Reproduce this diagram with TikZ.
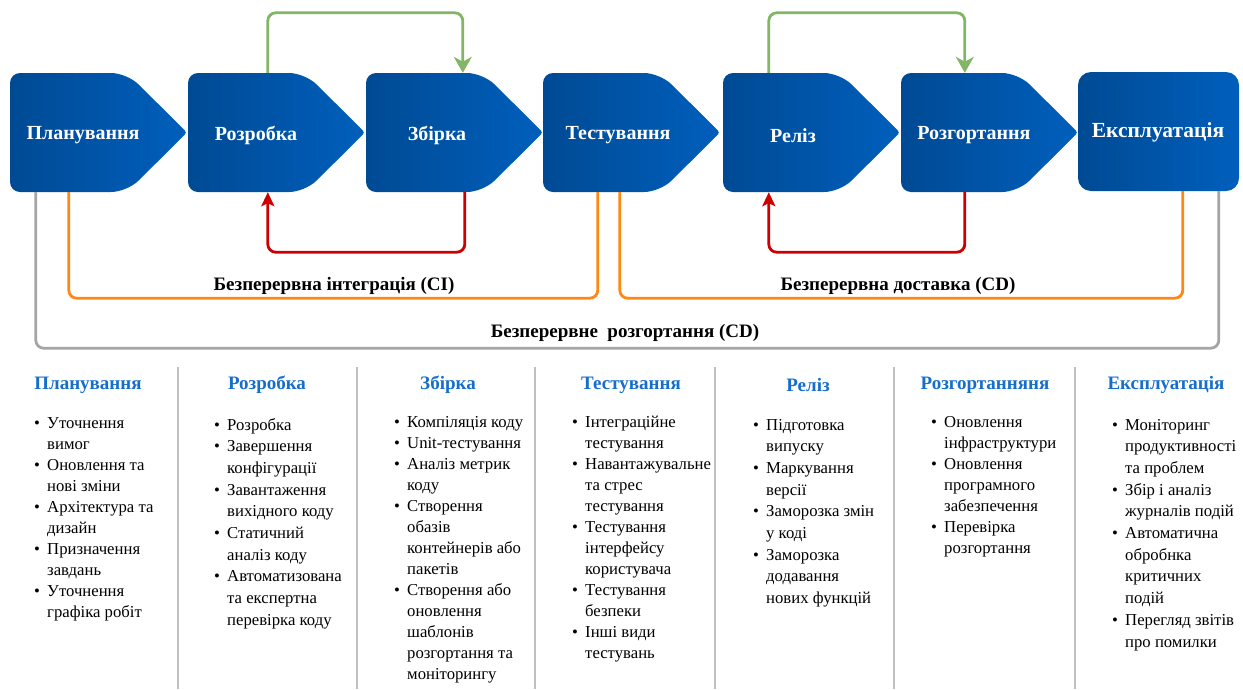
\documentclass[tikz,border=0pt]{standalone}
\usepackage{fontspec}
\setmainfont{Liberation Serif}
\usetikzlibrary{arrows.meta}
\definecolor{cdark}{RGB}{0,74,148}
\definecolor{clight}{RGB}{0,95,188}
\definecolor{hblue}{RGB}{22,110,204}
\definecolor{cgreen}{RGB}{130,182,102}
\definecolor{cred}{RGB}{204,0,0}
\definecolor{corange}{RGB}{255,136,20}
\definecolor{cgray}{RGB}{165,165,165}
\definecolor{csep}{RGB}{192,192,192}
\newcommand{\bul}{\makebox[13pt][l]{\textbullet}}
\tikzset{
 chev/.style={minimum width=177pt, minimum height=119pt, inner sep=0pt, path picture={
   \shade[left color=cdark, right color=clight, rounded corners=10pt]
     (path picture bounding box.south west) -- (path picture bounding box.north west)
     [rounded corners=16pt] -- ([xshift=-60pt]path picture bounding box.north east) [rounded corners=3pt] -- (path picture bounding box.east)
     [rounded corners=16pt] -- ([xshift=-60pt]path picture bounding box.south east) [rounded corners=10pt] -- cycle;}},
 lastbox/.style={minimum width=161pt, minimum height=119pt, inner sep=0pt, rounded corners=13pt, left color=cdark, right color=clight},
 ctext/.style={text=white, font=\fontsize{20}{22}\selectfont\bfseries, inner sep=0pt},
 head/.style={text=hblue, font=\fontsize{19}{22}\selectfont\bfseries, inner sep=0pt},
 lbl/.style={font=\fontsize{19}{22}\selectfont\bfseries, inner sep=0pt},
 blist/.style={anchor=base west, inner sep=0pt, font=\fontsize{16.7}{21}\selectfont},
 conn/.style={line width=2.8pt, rounded corners=8pt},
 gline/.style={conn, draw=cgreen, -{Stealth[length=16pt,width=18pt,inset=5pt]}},
 rline/.style={conn, draw=cred, -{Stealth[length=14pt,width=13pt,inset=3pt]}},
 oline/.style={conn, draw=corange},
 grline/.style={conn, draw=cgray},
 sep/.style={draw=csep, line width=1.5pt},
}
\begin{document}
\begin{tikzpicture}[x=1pt,y=-1pt]
\useasboundingbox (0,0) rectangle (1243,689);
% chevrons
\node[chev] (plan)  at (98.5,132.5) {};
\node[chev] (dev)   at (276.5,132.5) {};
\node[chev] (build) at (454.5,132.5) {};
\node[chev] (test)  at (631.5,132.5) {};
\node[chev] (rel)   at (811.5,132.5) {};
\node[chev] (depl)  at (989.5,132.5) {};
\node[lastbox] (exp) at (1158.5,131.5) {};
\node[ctext] (planT)  at (83,135.5) {Планування};
\node[ctext] (devT)   at (256,135.5) {Розробка};
\node[ctext] (buildT) at (437,135.5) {Збірка};
\node[ctext] (testT)  at (618,135.5) {Тестування};
\node[ctext] (relT)   at (793,135.5) {Реліз};
\node[ctext] (deplT)  at (974,135.5) {Розгортання};
\node[ctext, font=\fontsize{21.5}{24}\selectfont\bfseries] (expT) at (1158,132.5) {Експлуатація};
% feedback loops
\draw[gline] ([xshift=80pt]dev.north west) -- ++(0pt,60pt) -| ([xshift=97pt]build.north west);
\draw[rline] ([xshift=99pt]build.south west) -- ++(0pt,-60pt) -| ([xshift=80pt]dev.south west);
\draw[gline] ([xshift=46pt]rel.north west) -- ++(0pt,60pt) -| ([xshift=64pt]depl.north west);
\draw[rline] ([xshift=64pt]depl.south west) -- ++(0pt,-60pt) -| ([xshift=46pt]rel.south west);
\draw[oline] ([xshift=59pt]plan.south west) -- ++(0pt,-106pt) -| ([xshift=55pt]test.south west);
\draw[oline] ([xshift=77pt]test.south west) -- ++(0pt,-106pt) -| ([xshift=105pt]exp.south west);
\draw[grline] ([xshift=26pt]plan.south west) -- ++(0pt,-156pt) -| ([xshift=141pt]exp.south west);
\node[lbl] (ci)  at (334,286) {Безперервна інтеграція (CI)};
\node[lbl] (cd1) at (898,286) {Безперервна доставка (CD)};
\node[lbl] (cd2) at (625,333) {Безперервне\ \ розгортання (CD)};
% separators
\foreach \x in {178,357,535,715,894,1075} \draw[sep] (\x,367) -- (\x,689);
% headers
\node[head] (h1) at (88,385) {Планування};
\node[head] (h2) at (267,385) {Розробка};
\node[head] (h3) at (448,385) {Збірка};
\node[head] (h4) at (631,385) {Тестування};
\node[head] (h5) at (808,385) {Реліз};
\node[head] (h6) at (985,385) {Розгортанняня};
\node[head] (h7) at (1166,385) {Експлуатація};
% lists
\node[blist] (l1) at (34,428) {\begin{tabular}[t]{@{}l@{}l@{}}
\bul & Уточнення\\ & вимог\\
\bul & Оновлення та\\ & нові зміни\\
\bul & Архітектура та\\ & дизайн\\
\bul & Призначення\\ & завдань\\
\bul & Уточнення\\ & графіка робіт
\end{tabular}};
\node[blist, font=\fontsize{16.7}{21.7}\selectfont] (l2) at (214,430) {\begin{tabular}[t]{@{}l@{}l@{}}
\bul & Розробка\\
\bul & Завершення\\ & конфігурації\\
\bul & Завантаження\\ & вихідного коду\\
\bul & Статичний\\ & аналіз коду\\
\bul & Автоматизована\\ & та експертна\\ & перевірка коду
\end{tabular}};
\node[blist] (l3) at (394,427) {\begin{tabular}[t]{@{}l@{}l@{}}
\bul & Компіляція коду\\
\bul & Unit-тестування\\
\bul & Аналіз метрик\\ & коду\\
\bul & Створення\\ & обазів\\ & контейнерів або\\ & пакетів\\
\bul & Створення або\\ & оновлення\\ & шаблонів\\ & розгортання та\\ & моніторингу
\end{tabular}};
\node[blist] (l4) at (572,427) {\begin{tabular}[t]{@{}l@{}l@{}}
\bul & Інтеграційне\\ & тестування\\
\bul & Навантажувальне\\ & та стрес\\ & тестування\\
\bul & Тестування\\ & інтерфейсу\\ & користувача\\
\bul & Тестування\\ & безпеки\\
\bul & Інші види\\ & тестувань
\end{tabular}};
\node[blist, font=\fontsize{16.7}{21.7}\selectfont] (l5) at (753,430) {\begin{tabular}[t]{@{}l@{}l@{}}
\bul & Підготовка\\ & випуску\\
\bul & Маркування\\ & версії\\
\bul & Заморозка змін\\ & у коді\\
\bul & Заморозка\\ & додавання\\ & нових функцій
\end{tabular}};
\node[blist] (l6) at (931,427) {\begin{tabular}[t]{@{}l@{}l@{}}
\bul & Оновлення\\ & інфраструктури\\
\bul & Оновлення\\ & програмного\\ & забезпечення\\
\bul & Перевірка\\ & розгортання
\end{tabular}};
\node[blist, font=\fontsize{16.7}{21.7}\selectfont] (l7) at (1112,430) {\begin{tabular}[t]{@{}l@{}l@{}}
\bul & Моніторинг\\ & продуктивності\\ & та проблем\\
\bul & Збір і аналіз\\ & журналів подій\\
\bul & Автоматична\\ & обробнка\\ & критичних\\ & подій\\
\bul & Перегляд звітів\\ & про помилки
\end{tabular}};
\end{tikzpicture}
\end{document}
